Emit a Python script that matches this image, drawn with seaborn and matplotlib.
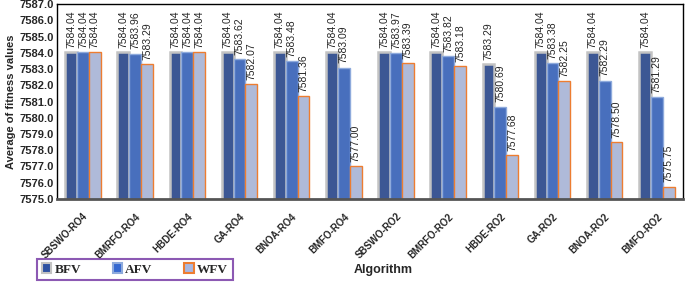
import pandas as pd
import numpy as np
import seaborn as sns
import matplotlib.pyplot as plt

algorithms = ["SBSWO-RO4", "BMRFO-RO4", "HBDE-RO4", "GA-RO4", "BNOA-RO4", "BMFO-RO4",
              "SBSWO-RO2", "BMRFO-RO2", "HBDE-RO2", "GA-RO2", "BNOA-RO2", "BMFO-RO2"]
bfv = [7584.04, 7584.04, 7584.04, 7584.04, 7584.04, 7584.04,
       7584.04, 7584.04, 7583.29, 7584.04, 7584.04, 7584.04]
afv = [7584.04, 7583.96, 7584.04, 7583.62, 7583.48, 7583.09,
       7583.97, 7583.82, 7580.69, 7583.38, 7582.29, 7581.29]
wfv = [7584.04, 7583.29, 7584.04, 7582.07, 7581.36, 7577.00,
       7583.39, 7583.18, 7577.68, 7582.25, 7578.50, 7575.75]
series = ["BFV", "AFV", "WFV"]

data = pd.DataFrame({"Algorithm": algorithms * 3,
                     "Metric": np.repeat(series, len(algorithms)),
                     "Value": bfv + afv + wfv})

sns.set_style("white")
plt.rcParams['font.family'] = ['Liberation Sans', 'DejaVu Sans']

fill = {"BFV": "#2e52a2", "AFV": "#3568d0", "WFV": "#a8b7e0"}
edges = {"BFV": "#c3c3c3", "AFV": "#8eaadc", "WFV": "#ed7d31"}
widths = {"BFV": 1.8, "AFV": 1.0, "WFV": 1.0}

fig = plt.figure(figsize=(6.85, 2.82), dpi=100)
ax = fig.add_axes([0.083, 0.295, 0.914, 0.69])
sns.barplot(data=data, x="Algorithm", y="Value", hue="Metric", hue_order=series,
            palette=fill, width=0.68, ax=ax, legend=False)

for cont, name in zip(ax.containers, series):
    for bar in cont:
        bar.set_edgecolor(edges[name])
        bar.set_linewidth(widths[name])
    ax.bar_label(cont, fmt="%.2f", rotation=90, padding=3, fontsize=7.5)

ax.set_ylim(7575, 7587)
ax.set_yticks(np.arange(7575, 7588, 1))
ax.set_yticklabels([f"{v:.1f}" for v in np.arange(7575, 7588, 1)], fontsize=8, fontweight="bold")
ax.set_xlim(-0.5, len(algorithms) - 0.5)
ax.set_xticks(range(len(algorithms)))
ax.set_xticklabels(algorithms, rotation=45, ha="right", rotation_mode="anchor",
                   fontsize=7, fontweight="bold")
ax.tick_params(axis="x", pad=9, length=0)
ax.tick_params(axis="y", pad=2, length=0)
ax.set_xlabel("")
ax.set_ylabel("Average of fitness values", fontsize=8, fontweight="bold", labelpad=3)

for side in ["top", "right", "left"]:
    ax.spines[side].set_color("black")
    ax.spines[side].set_linewidth(1.0)
ax.spines["bottom"].set_color("#555555")
ax.spines["bottom"].set_linewidth(2.0)

fig.text(0.56, 0.042, "Algorithm", fontsize=9, fontweight="bold", ha="center", va="center")

handles = [plt.Rectangle((0, 0), 1, 1, facecolor=fill[s], edgecolor=edges[s], linewidth=1.5)
           for s in series]
leg = fig.legend(handles, series, loc="center", bbox_to_anchor=(0.197, 0.044), ncol=3,
                 frameon=True, fancybox=False, handlelength=0.7, handleheight=0.7,
                 handletextpad=0.25, columnspacing=2.4, borderpad=0.35, borderaxespad=0,
                 prop={"family": "Liberation Serif", "weight": "bold", "size": 9.5})
leg.get_frame().set_edgecolor("#7030a0")
leg.get_frame().set_linewidth(1.5)

fig.savefig("out.png", dpi=100)
